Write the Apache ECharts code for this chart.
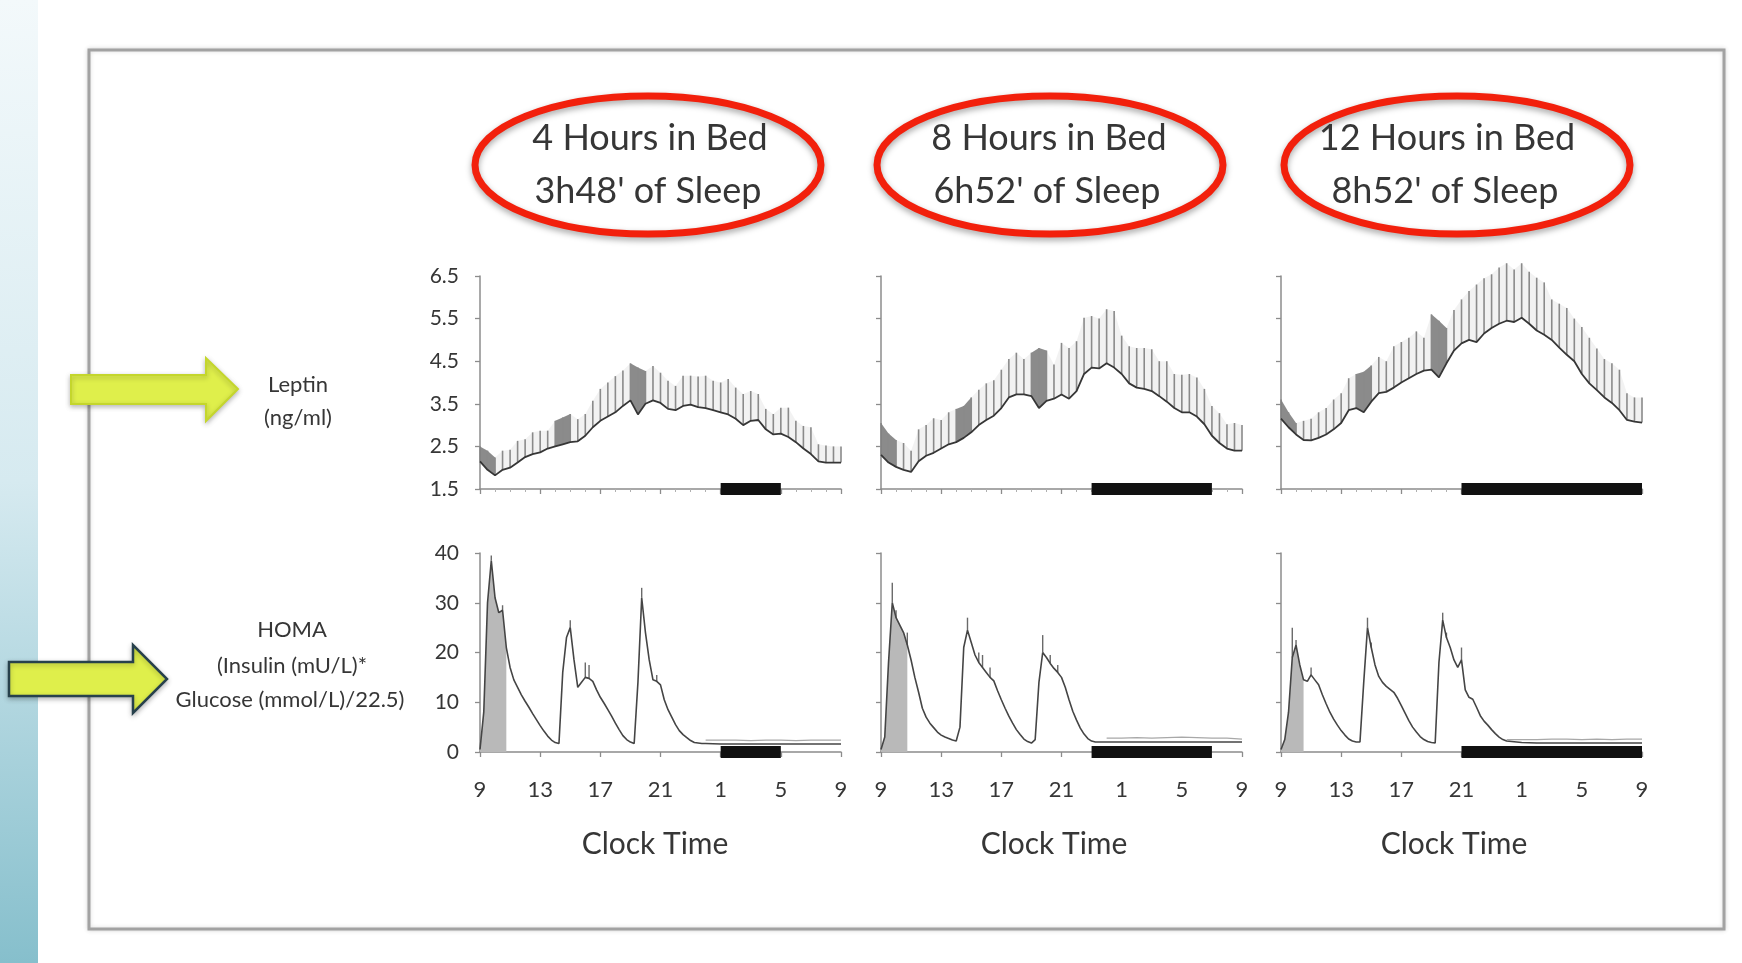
<!DOCTYPE html>
<html>
<head>
<meta charset="utf-8">
<script src="https://cdn.jsdelivr.net/npm/echarts@6/dist/echarts.min.js"></script>
<style>
  html, body { margin: 0; padding: 0; background: #ffffff; }
  #chart { width: 1742px; height: 963px; }
</style>
</head>
<body>
<div id="chart"></div>
<script>
// ---- data -------------------------------------------------------------
// Hours elapsed since 09:00 (0 = 09:00, 24 = 09:00 next day)
const leptinHours = [0,0.5,1,1.5,2,2.5,3,3.5,4,4.5,5,5.5,6,6.5,7,7.5,8,8.5,9,9.5,10,10.5,11,11.5,12,12.5,13,13.5,14,14.5,15,15.5,16,16.5,17,17.5,18,18.5,19,19.5,20,20.5,21,21.5,22,22.5,23,23.5,24];

// Leptin (ng/ml): mean and mean + SEM
const leptin4hMean  = [2.15,1.95,1.82,1.95,2.0,2.12,2.25,2.32,2.36,2.45,2.5,2.55,2.6,2.62,2.75,2.95,3.1,3.2,3.3,3.45,3.58,3.25,3.5,3.58,3.52,3.38,3.35,3.45,3.48,3.42,3.4,3.35,3.3,3.25,3.15,3.0,3.1,3.12,2.9,2.78,2.8,2.72,2.6,2.45,2.32,2.15,2.12,2.12,2.12];
const leptin4hUpper = [2.5,2.4,2.24,2.4,2.42,2.63,2.67,2.83,2.87,2.87,3.1,3.18,3.26,3.14,3.26,3.57,3.85,4.0,4.15,4.28,4.45,4.35,4.27,4.39,4.23,4.04,3.92,4.16,4.16,4.14,4.16,4.04,4.0,4.08,3.88,3.73,3.8,3.73,3.38,3.26,3.41,3.41,3.1,2.98,2.95,2.55,2.52,2.5,2.5];

const leptin8hMean  = [2.3,2.12,2.02,1.95,1.9,2.15,2.28,2.35,2.45,2.55,2.6,2.7,2.83,3.0,3.12,3.22,3.4,3.65,3.72,3.72,3.68,3.4,3.57,3.62,3.72,3.62,3.8,4.2,4.35,4.33,4.45,4.35,4.2,3.98,3.88,3.85,3.8,3.68,3.55,3.4,3.3,3.3,3.2,3.02,2.75,2.58,2.45,2.4,2.4];
const leptin8hUpper = [3.05,2.8,2.65,2.58,2.4,2.9,3.0,3.16,3.12,3.3,3.38,3.45,3.65,3.83,3.98,4.05,4.3,4.55,4.7,4.55,4.7,4.81,4.75,4.42,4.93,4.81,4.97,5.52,5.56,5.5,5.72,5.68,5.1,4.85,4.81,4.81,4.78,4.5,4.5,4.2,4.18,4.2,4.12,3.85,3.45,3.28,3.02,3.05,3.0];

const leptin12hMean  = [3.15,2.95,2.78,2.65,2.64,2.7,2.78,2.9,3.05,3.35,3.4,3.3,3.55,3.75,3.78,3.88,4.0,4.1,4.2,4.28,4.3,4.12,4.45,4.75,4.92,5.0,4.95,5.15,5.28,5.38,5.45,5.42,5.52,5.38,5.22,5.12,5.0,4.82,4.65,4.5,4.2,3.98,3.82,3.65,3.52,3.35,3.12,3.08,3.06];
const leptin12hUpper = [3.6,3.3,3.05,3.1,3.15,3.3,3.4,3.6,3.75,4.1,4.2,4.25,4.4,4.6,4.5,4.85,4.95,5.05,5.2,5.05,5.6,5.45,5.28,5.7,5.95,6.15,6.3,6.45,6.54,6.7,6.8,6.65,6.8,6.6,6.46,6.35,5.95,5.85,5.75,5.5,5.3,5.05,4.8,4.55,4.45,4.3,3.75,3.65,3.65];

// Post-meal windows with frequent sampling (hours since 09:00)
const denseWindows = [[0, 1], [5, 6], [10, 11]];

// HOMA index sampling times (hours since 09:00)
const homaHours = [0,0.25,0.5,0.75,1,1.25,1.5,1.75,2,2.25,2.5,2.75,3,3.25,3.5,3.75,4,4.25,4.5,4.75,5,5.25,5.5,5.75,6,6.25,6.5,6.75,7,7.25,7.5,7.75,8,8.25,8.5,8.75,9,9.25,9.5,9.75,10,10.25,10.5,10.75,11,11.25,11.5,11.75,12,12.25,12.5,12.75,13,13.25,13.5,13.75,14,14.25,14.5,14.75,15,16,17,18,19,20,21,22,23,24];

const homa4h  = [0.5,8,30,38.5,31,28,28.5,21,17,14.5,13,11.5,10.2,9,7.7,6.5,5.3,4.2,3.2,2.4,1.9,1.7,16,23,25,18.5,13,14,15,14.8,14.2,12.5,11,9.8,8.5,7.2,5.8,4.5,3.3,2.5,2.0,1.7,14,31,24,18.5,14.5,14.2,13.5,10.5,8.5,7,5.5,4.3,3.5,2.9,2.3,1.9,1.8,1.7,1.7,1.6,1.6,1.6,1.6,1.6,1.6,1.6,1.6,1.6];
const homa8h  = [0.5,3,18,30,27,25.5,24,21.5,18.5,15,12,8.8,7,5.8,4.9,4.0,3.4,3.0,2.7,2.4,2.2,5,21,24.5,22,19.5,18,17,16,15,14.3,12.3,10.5,8.8,7.2,5.8,4.5,3.5,2.6,2.1,1.8,2.5,14,20,19,17.8,16.8,16,15,13,10.5,8.2,6.4,4.8,3.6,2.7,2.2,2.0,2.0,2.0,2.0,2.0,2.0,2.0,2.0,2.0,2.0,2.0,2.0,2.0];
const homa12h = [0.5,2.5,8,19,21.5,17.5,14.5,14.2,15.5,14.5,13.5,11.5,9.7,8,6.6,5.4,4.3,3.4,2.6,2.2,2.0,2.0,14,25,21,17.5,15.2,14,13.2,12.6,12,10.8,9.3,7.8,6.3,5.0,4.0,3.1,2.5,2.1,1.9,1.8,18,26.5,23,21,18.5,17,18.5,12.5,11,10.6,9,7.3,6.2,5.4,4.5,3.7,3.0,2.5,2.2,1.9,1.8,1.8,1.8,1.8,1.8,1.8,1.8,1.8];

// Upper SEM whiskers on the HOMA curves: [hour, mean + SEM]
const homaWhiskers4h  = [[0.75,39.5],[1.5,29.5],[6,26.5],[7,18],[7.25,17.5],[10.75,33],[11.75,15.5]];
const homaWhiskers8h  = [[0.75,34],[1,28.5],[1.75,24],[5.75,27],[6.5,20],[6.75,19.5],[7.25,17],[10.75,23.5],[11.25,19.5],[11.75,17.5]];
const homaWhiskers12h = [[0.75,25],[1,22.5],[2,17],[5.75,27],[6,22],[10.75,28],[11,24],[12,21]];

// Night-time HOMA mean + SEM
const homaNightHours = [15,16,17,18,19,20,21,22,23,24];
const homaNightUpper4h  = [2.4,2.4,2.4,2.3,2.4,2.4,2.3,2.4,2.4,2.4];
const homaNightUpper8h  = [2.8,2.8,2.9,2.8,2.9,3.0,2.9,2.8,2.8,2.6];
const homaNightUpper12h = [2.5,2.5,2.5,2.6,2.6,2.5,2.6,2.5,2.6,2.6];

// Shaded early-morning sampling period under the HOMA curve (end hour)
const shadedEnd = [1.75, 1.75, 1.5];

// Time in bed (hours since 09:00)
const sleepStart = [16, 14, 12];
const sleepEnd   = [20, 22, 24];

// Axis ticks and labels
const clockLabels = ['9', '13', '17', '21', '1', '5', '9'];
const leptinTicks = [1.5, 2.5, 3.5, 4.5, 5.5, 6.5];
const conditionLabels = ['4 Hours in Bed', '8 Hours in Bed', '12 Hours in Bed'];
const sleepLabels = ["3h48' of Sleep", "6h52' of Sleep", "8h52' of Sleep"];

// ---- layout -------------------------------------------------------------
const FONT = 'Lato, "Open Sans", sans-serif';
const TEXT = '#363636';
const AXIS = '#8c8c8c';
const panelLeft = [480, 881, 1281];
const panelWidth = 361;
const leptinTop = 276, leptinHeight = 213;
const homaTop = 553, homaHeight = 199;
const ellipseX = [648, 1050, 1457];
const textX = [650, 1049, 1447];
const clockTimeX = [655, 1054, 1454];

const leptinMeans = [leptin4hMean, leptin8hMean, leptin12hMean];
const leptinUppers = [leptin4hUpper, leptin8hUpper, leptin12hUpper];
const homaMeans = [homa4h, homa8h, homa12h];
const homaWhiskers = [homaWhiskers4h, homaWhiskers8h, homaWhiskers12h];
const homaNightUppers = [homaNightUpper4h, homaNightUpper8h, homaNightUpper12h];

// vertical line from value(1) to value(2) at value(0)
function verticalLine(color, width) {
  return function (params, api) {
    const x = api.value(0);
    const a = api.coord([x, api.value(1)]);
    const b = api.coord([x, api.value(2)]);
    return {
      type: 'line',
      shape: { x1: a[0], y1: a[1], x2: b[0], y2: b[1] },
      style: { stroke: color, lineWidth: width }
    };
  };
}

// filled quad between mean and upper for two consecutive samples
function bandBetween(fill) {
  return function (params, api) {
    const a = api.coord([api.value(0), api.value(1)]);
    const b = api.coord([api.value(0), api.value(2)]);
    const c = api.coord([api.value(3), api.value(5)]);
    const d = api.coord([api.value(3), api.value(4)]);
    return {
      type: 'polygon',
      shape: { points: [a, b, c, d] },
      style: { fill: fill }
    };
  };
}

function inDense(h) {
  return denseWindows.some(w => h >= w[0] && h <= w[1]);
}

const grids = [], xAxes = [], yAxes = [], series = [];

for (let p = 0; p < 3; p++) {
  grids.push({ left: panelLeft[p], top: leptinTop, width: panelWidth, height: leptinHeight });
}
for (let p = 0; p < 3; p++) {
  grids.push({ left: panelLeft[p], top: homaTop, width: panelWidth, height: homaHeight });
}

for (let g = 0; g < 6; g++) {
  const bottomRow = g >= 3;
  const p = g % 3;
  xAxes.push({
    type: 'value', gridIndex: g, min: 0, max: 24, interval: 4,
    axisLine: { show: true, onZero: false, lineStyle: { color: AXIS, width: 1.5 } },
    axisTick: { show: true, length: 5, lineStyle: { color: AXIS, width: 1.3 } },
    minorTick: { show: !bottomRow, splitNumber: 4, length: 3, lineStyle: { color: '#b0b0b0', width: 1 } },
    splitLine: { show: false },
    axisLabel: bottomRow ? {
      show: true, margin: 27, fontFamily: FONT, fontSize: 22, color: TEXT,
      formatter: v => clockLabels[Math.round(v / 4)]
    } : { show: false }
  });
  if (!bottomRow) {
    yAxes.push({
      type: 'value', gridIndex: g, min: 1.5, max: 6.5, offset: 7,
      axisLine: { show: true, lineStyle: { color: AXIS, width: 1.5 } },
      axisTick: { show: true, length: 5, customValues: leptinTicks, lineStyle: { color: AXIS, width: 1.3 } },
      splitLine: { show: false },
      axisLabel: {
        show: p === 0, customValues: leptinTicks, margin: 14,
        fontFamily: FONT, fontSize: 21, color: TEXT,
        formatter: v => v.toFixed(1)
      }
    });
  } else {
    yAxes.push({
      type: 'value', gridIndex: g, min: 0, max: 40, interval: 10, offset: 7,
      axisLine: { show: true, lineStyle: { color: AXIS, width: 1.5 } },
      axisTick: { show: true, length: 5, lineStyle: { color: AXIS, width: 1.3 } },
      splitLine: { show: false },
      axisLabel: { show: p === 0, margin: 14, fontFamily: FONT, fontSize: 21, color: TEXT }
    });
  }
}

for (let p = 0; p < 3; p++) {
  const mean = leptinMeans[p], upper = leptinUppers[p];

  // faint SEM envelope and denser post-meal sampling
  const allSegs = [], denseSegs = [];
  for (let k = 0; k < leptinHours.length - 1; k++) {
    const seg = [leptinHours[k], mean[k], upper[k], leptinHours[k + 1], mean[k + 1], upper[k + 1]];
    allSegs.push(seg);
    if (inDense(leptinHours[k]) && inDense(leptinHours[k + 1])) denseSegs.push(seg);
  }
  series.push({
    type: 'custom', xAxisIndex: p, yAxisIndex: p, silent: true, z: 1,
    renderItem: bandBetween('rgba(0,0,0,0.05)'),
    encode: { x: [0, 3], y: [1, 2, 4, 5] },
    data: allSegs
  });
  series.push({
    type: 'custom', xAxisIndex: p, yAxisIndex: p, silent: true, z: 2,
    renderItem: bandBetween('rgba(70,70,70,0.6)'),
    encode: { x: [0, 3], y: [1, 2, 4, 5] },
    data: denseSegs
  });

  // leptin SEM bars
  series.push({
    type: 'custom', xAxisIndex: p, yAxisIndex: p, silent: true, z: 2,
    renderItem: verticalLine('#8a8a8a', 1.6),
    encode: { x: 0, y: [1, 2] },
    data: leptinHours.map((h, k) => [h, mean[k], upper[k]])
  });

  // leptin mean
  series.push({
    type: 'line', xAxisIndex: p, yAxisIndex: p, silent: true, z: 3,
    symbol: 'none', lineStyle: { color: '#363636', width: 1.8 },
    data: leptinHours.map((h, k) => [h, mean[k]])
  });

  // time in bed
  series.push({
    type: 'line', xAxisIndex: p, yAxisIndex: p, silent: true, z: 5, clip: false,
    symbol: 'none', lineStyle: { color: '#111111', width: 12, cap: 'butt' },
    data: [[sleepStart[p], 1.5], [sleepEnd[p], 1.5]]
  });

  const g = p + 3;
  const homa = homaMeans[p];

  // shaded early sampling period
  series.push({
    type: 'line', xAxisIndex: g, yAxisIndex: g, silent: true, z: 2,
    symbol: 'none', lineStyle: { width: 0 },
    areaStyle: { color: '#b9b9b9', opacity: 1 },
    data: homaHours.filter(h => h <= shadedEnd[p]).map(h => [h, homa[homaHours.indexOf(h)]])
  });

  // night-time SEM
  series.push({
    type: 'line', xAxisIndex: g, yAxisIndex: g, silent: true, z: 2,
    symbol: 'none', lineStyle: { color: '#a8a8a8', width: 1.3 },
    data: homaNightHours.map((h, k) => [h, homaNightUppers[p][k]])
  });

  // SEM whiskers
  series.push({
    type: 'custom', xAxisIndex: g, yAxisIndex: g, silent: true, z: 2,
    renderItem: verticalLine('#6a6a6a', 1.4),
    encode: { x: 0, y: [1, 2] },
    data: homaWhiskers[p].map(w => [w[0], homa[homaHours.indexOf(w[0])], w[1]])
  });

  // HOMA mean
  series.push({
    type: 'line', xAxisIndex: g, yAxisIndex: g, silent: true, z: 3,
    symbol: 'none', lineStyle: { color: '#454545', width: 1.6 },
    data: homaHours.map((h, k) => [h, homa[k]])
  });

  // time in bed
  series.push({
    type: 'line', xAxisIndex: g, yAxisIndex: g, silent: true, z: 5, clip: false,
    symbol: 'none', lineStyle: { color: '#111111', width: 12, cap: 'butt' },
    data: [[sleepStart[p], 0], [sleepEnd[p], 0]]
  });
}

// ---- decorations --------------------------------------------------------
function label(text, x, y, size) {
  return {
    type: 'text', x: x, y: y, z: 30,
    style: {
      text: text, font: size + 'px ' + FONT, fill: TEXT,
      align: 'center', verticalAlign: 'middle',
      textAlign: 'center', textVerticalAlign: 'middle'
    }
  };
}

const graphics = [
  {
    type: 'rect', z: -5, shape: { x: 0, y: 0, width: 38, height: 963 },
    style: {
      fill: new echarts.graphic.LinearGradient(0, 0, 0, 1, [
        { offset: 0, color: '#f3f9fb' },
        { offset: 0.5, color: '#d6eaf0' },
        { offset: 1, color: '#86bfcc' }
      ])
    }
  },
  {
    type: 'rect', z: -4, shape: { x: 89, y: 50, width: 1635, height: 879 },
    style: { fill: '#ffffff', stroke: '#a2a2a2', lineWidth: 3, shadowBlur: 4, shadowColor: 'rgba(0,0,0,0.15)' }
  },
  {
    type: 'polygon', z: 25,
    shape: { points: [[71, 375], [206, 375], [206, 358], [238, 389], [206, 421], [206, 404], [71, 404]] },
    style: { fill: '#dfef4b', stroke: '#c4d62c', lineWidth: 2, shadowBlur: 5, shadowColor: 'rgba(0,0,0,0.25)', shadowOffsetY: 2 }
  },
  {
    type: 'polygon', z: 25,
    shape: { points: [[9, 662], [133, 662], [133, 645], [167, 679], [133, 713], [133, 696], [9, 696]] },
    style: { fill: '#dfef4b', stroke: '#27414c', lineWidth: 2.5, shadowBlur: 5, shadowColor: 'rgba(0,0,0,0.25)', shadowOffsetY: 2 }
  },
  label('Leptin', 298, 385, 22),
  label('(ng/ml)', 298, 418, 22),
  label('HOMA', 292, 630, 22),
  label('(Insulin (mU/L)*', 292, 666, 22),
  label('Glucose (mmol/L)/22.5)', 290, 700, 22)
];

for (let p = 0; p < 3; p++) {
  graphics.push({
    type: 'ellipse', z: 20,
    shape: { cx: ellipseX[p], cy: 165, rx: 173, ry: 69 },
    style: { fill: 'none', stroke: '#f2200c', lineWidth: 7, shadowBlur: 6, shadowColor: 'rgba(0,0,0,0.35)', shadowOffsetY: 3 }
  });
  graphics.push(label(conditionLabels[p], textX[p], 138, 36));
  graphics.push(label(sleepLabels[p], textX[p] - 2, 191, 36));
  graphics.push(label('Clock Time', clockTimeX[p], 844, 30));
}

const chart = echarts.init(document.getElementById('chart'), null, { renderer: 'canvas' });
chart.setOption({
  animation: false,
  backgroundColor: '#ffffff',
  grid: grids,
  xAxis: xAxes,
  yAxis: yAxes,
  series: series,
  graphic: { elements: graphics }
});
</script>
</body>
</html>
